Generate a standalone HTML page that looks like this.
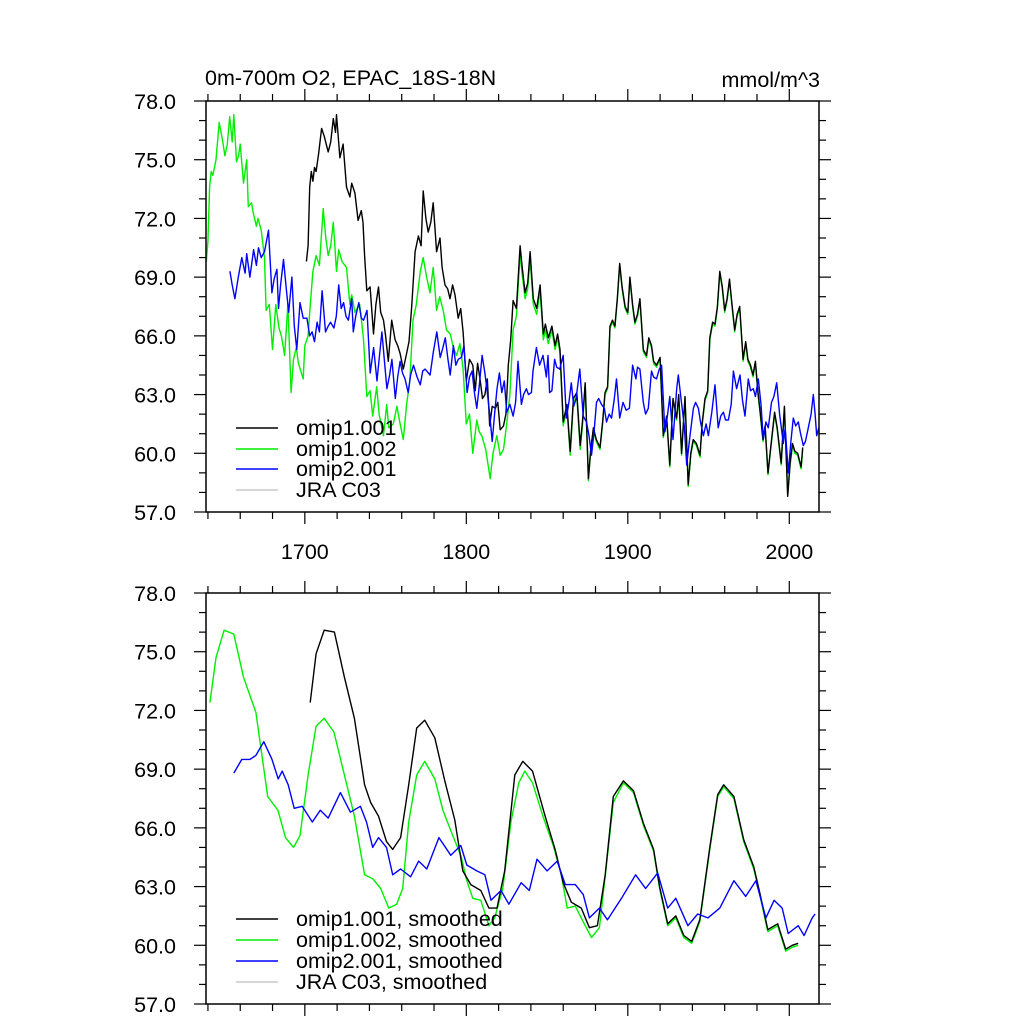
<!DOCTYPE html>
<html><head><meta charset="utf-8"><style>
html,body{margin:0;padding:0;background:#fff;}
svg{display:block;font-family:"Liberation Sans",Arial,sans-serif;}
</style></head><body>
<svg id="chart" width="1024" height="1024" viewBox="0 0 1024 1024">
<text x="205" y="85" font-size="21.5">0m-700m O2, EPAC_18S-18N</text>
<text x="820" y="87" font-size="21.5" text-anchor="end">mmol/m^3</text>
</svg>
<script>
// ---- data (years and values) ----
const topGreenYears=[1639,1640,1641,1642,1643,1645,1647,1649,1650.5,1652,1653.5,1655,1656,1657.7,1659,1660,1662,1664,1665,1667,1668,1670,1671,1673,1675,1676,1678,1680,1682,1684,1685.5,1687.5,1689.5,1691.5,1693,1694.7,1696,1699,1700,1702,1703,1705,1707,1709,1711.4,1713,1714.5,1716,1717.6,1719.6,1721,1723,1725.8,1727.9,1729,1731,1734,1736.3,1738.4,1740.4,1742,1744.5,1746,1748.7,1750.7,1752,1754.8,1757,1759,1761,1763,1765,1767,1769,1771.5,1773.3,1775.4,1777.5,1779.5,1781.6,1783.5,1785.7,1787.7,1790,1792,1794,1796,1798,1800,1802,1804,1806.5,1808,1809.6,1812,1814.8,1816.5,1818.9,1821,1823,1825,1827,1829,1831,1833.3,1834.5,1836.4,1838,1839.5,1841.5,1843.6,1845.7,1847.7,1849,1850.8,1853,1855,1856.5,1858,1860,1862.3,1864.3,1866.3,1868.4,1870.5,1872,1873.6,1875.6,1877,1878.7,1880.5,1882.8,1884.5,1885.9,1887.5,1889,1890.5,1892,1893.5,1895,1896.5,1898.3,1900,1901.3,1903,1904.4,1906,1907.5,1909.6,1911.6,1913,1914.7,1916,1917.8,1920,1922,1924,1926,1928,1930.2,1931.5,1933.3,1935.4,1937.4,1939,1940.5,1942.5,1944.7,1946,1947.8,1949.5,1950.8,1952.5,1954,1955.5,1957,1958.5,1960,1961.5,1963,1964.5,1966.2,1967.7,1969.3,1971.4,1973,1974.4,1976,1977.5,1979,1980.6,1982,1983.7,1985,1986.8,1988.5,1990.9,1992.5,1995,1997,1999,2000.5,2002,2003.5,2005.2,2007.3,2008.3];
const topGreenValues=[69.8,70.8,73.6,74.4,74.2,75.0,76.9,76.0,75.2,75.8,77.2,75.9,77.3,74.9,75.2,75.8,73.8,75.0,72.6,72.8,72.3,71.6,72.0,71.4,70.0,67.3,67.6,65.3,67.6,66.4,66.0,65.0,67.6,63.1,64.8,65.4,64.6,63.8,65.5,66.0,67.2,69.3,70.1,69.6,72.5,71.0,70.1,70.6,71.8,69.3,70.4,69.8,69.5,67.6,68.1,67.2,67.6,65.9,62.9,63.2,61.9,63.4,62.0,60.9,62.5,61.3,61.5,62.4,61.5,60.7,62.5,63.7,66.8,67.6,69.3,70.0,69.0,68.2,69.5,67.3,68.0,67.3,66.3,66.1,65.4,65.0,65.6,64.3,61.5,62.0,60.0,61.7,61.1,60.9,60.2,58.7,60.0,60.9,59.9,60.2,61.5,63.0,66.3,67.0,70.2,69.2,67.9,68.4,69.9,67.6,67.1,68.3,65.8,66.3,65.6,66.3,65.3,65.9,65.1,61.4,62.3,59.9,62.6,62.9,60.2,61.5,63.5,58.6,60.1,61.2,60.6,60.2,61.6,63.0,63.3,66.4,66.7,66.4,67.8,69.6,68.4,67.4,67.1,68.9,67.5,66.6,67.0,67.8,65.2,64.9,65.8,65.4,64.6,64.4,64.8,60.8,61.8,59.3,62.7,61.7,62.9,59.9,62.8,58.3,59.9,60.6,60.4,59.8,61.4,62.7,63.1,65.8,66.6,66.5,67.4,69.2,68.4,67.2,67.8,68.8,67.5,66.2,67.0,67.4,64.7,65.6,64.7,64.4,63.9,64.6,63.0,62.0,60.6,61.3,58.9,60.2,62.0,61.2,59.4,62.3,57.9,59.4,60.4,60.0,59.9,59.2,60.2];
const topBlackYears=[1701,1702,1703,1704,1705,1706,1707,1708.5,1710.4,1712,1714.5,1716,1717.6,1719,1719.6,1721.7,1723.7,1725.8,1727.9,1729,1731,1733,1735,1736,1737,1738.4,1740.4,1742.5,1744,1745.6,1747,1748.7,1750,1751.7,1753.8,1755.9,1757.5,1759,1761,1763,1764.5,1766.2,1768.3,1770.3,1772,1773.3,1775,1776.4,1778,1779.5,1781.6,1783.7,1785,1786.8,1788.5,1789.9,1791.5,1793,1795,1796.5,1798,1800,1802,1804,1805.5,1807,1808.5,1810,1811.5,1813,1814.5,1816,1818,1819.5,1821,1823,1824.5,1826,1827.5,1829,1831,1833.3,1834.5,1836.4,1838,1839.5,1841.5,1843.6,1845.7,1847.7,1849,1850.8,1853,1855,1856.5,1858,1860,1862.3,1864.3,1866.3,1868.4,1870.5,1872,1873.6,1875.6,1877,1878.7,1880.5,1882.8,1884.5,1885.9,1887.5,1889,1890.5,1892,1893.5,1895,1896.5,1898.3,1900,1901.3,1903,1904.4,1906,1907.5,1909.6,1911.6,1913,1914.7,1916,1917.8,1920,1922,1924,1926,1928,1930.2,1931.5,1933.3,1935.4,1937.4,1939,1940.5,1942.5,1944.7,1946,1947.8,1949.5,1950.8,1952.5,1954,1955.5,1957,1958.5,1960,1961.5,1963,1964.5,1966.2,1967.7,1969.3,1971.4,1973,1974.4,1976,1977.5,1979,1980.6,1982,1983.7,1985,1986.8,1988.5,1990.9,1992.5,1995,1997,1999,2000.5,2002,2003.5,2005.2,2007.3,2008.3];
const topBlackValues=[69.8,70.6,73.6,74.4,73.9,74.6,74.4,75.3,76.6,76.2,75.4,75.9,77.1,76.4,77.3,75.1,75.8,73.6,73.1,73.8,73.3,71.9,72.4,71.8,70.1,68.3,68.5,66.1,67.6,68.5,67.2,66.8,66.0,64.7,66.8,65.8,65.5,65.1,64.3,65.1,65.7,67.5,70.3,71.1,70.6,73.4,72.0,71.3,71.8,72.8,70.3,71.0,69.5,68.6,68.4,67.9,68.6,68.1,66.9,67.4,66.2,63.7,64.8,64.5,63.2,64.6,63.8,62.8,63.0,63.8,61.4,62.4,62.3,62.6,61.2,61.4,62.0,64.5,65.8,67.8,67.4,70.6,69.6,68.2,68.7,70.3,67.9,67.4,68.6,66.1,66.6,65.9,66.5,65.5,66.1,65.3,61.6,62.5,60.1,62.8,63.1,60.4,61.7,63.6,58.7,60.2,61.3,60.7,60.3,61.7,63.1,63.4,66.5,66.8,66.5,67.9,69.7,68.5,67.5,67.2,69.0,67.6,66.7,67.1,67.9,65.3,65.0,65.9,65.5,64.7,64.5,64.9,60.9,61.9,59.4,62.8,61.8,63.0,60.0,62.9,58.4,60.0,60.7,60.5,59.9,61.5,62.8,63.2,65.9,66.7,66.6,67.5,69.3,68.5,67.3,67.9,68.9,67.6,66.3,67.1,67.5,64.8,65.7,64.8,64.5,64.0,64.7,63.1,62.1,60.7,61.4,59.0,60.3,62.1,61.3,59.5,62.4,57.8,59.5,60.5,60.1,60.0,59.3,60.3];
const topBlueYears=[1653.6,1655,1656.7,1658.8,1661,1663,1664,1666,1668.3,1670,1671.3,1673,1675,1677.5,1679.6,1681,1682.7,1683.7,1685,1686.8,1688.5,1690,1692,1693.5,1695,1697,1699,1701.3,1703,1704.5,1706,1707.6,1709,1710.7,1712.8,1714.5,1715.9,1718,1719.5,1721,1722.5,1724,1725.5,1727,1729,1730,1731.5,1733.4,1735,1736.4,1738.5,1740.5,1742.6,1744.7,1746,1747.7,1749.5,1750.8,1752.5,1753.9,1756,1757.5,1759,1760.5,1762,1764,1765.5,1767.3,1769.5,1771.5,1773,1774.5,1777.6,1779.6,1781.7,1783.8,1785.5,1787,1788.5,1790,1792,1793.5,1795,1797,1798.5,1800.5,1802,1803.6,1805,1806.5,1808,1809.8,1811.5,1813,1814.5,1816,1817.5,1819,1820.5,1822,1823.5,1825,1827,1829,1830.5,1832,1834.1,1835.5,1837.2,1838.5,1840.3,1841.3,1843.4,1845.4,1847.5,1849.6,1850.6,1851.6,1853,1854.7,1856,1857.8,1860,1862,1863.5,1865,1866.5,1868,1870.3,1872.4,1874.4,1876,1877.5,1879,1880.6,1882,1883.7,1885.5,1886.8,1888.5,1889.9,1891.5,1893,1895,1897,1899,1901,1903,1905,1906,1907.5,1909.6,1911,1912.7,1914.7,1916,1917.8,1919.5,1920.9,1923,1924.5,1926,1928,1930.3,1931.3,1933.4,1935,1936.5,1938.5,1940.6,1942,1943.7,1945,1946.8,1948.5,1949.9,1952,1954,1956,1957.5,1959.2,1960.5,1962.3,1964,1965.4,1967.4,1969.5,1971,1972.6,1974.6,1976,1977.7,1979,1980.8,1982.5,1983.9,1985.5,1987,1989,1990.5,1992.2,1994,1996.3,1997.5,1999.4,2001,2002.5,2004,2005.6,2007,2008.7,2010,2011.8,2013.5,2014.9,2016,2017,2018.3];
const topBlueValues=[69.3,68.6,67.9,69.0,70.0,69.2,70.2,69.0,70.4,69.6,70.5,70.0,70.3,71.4,68.2,68.9,69.4,67.4,68.6,69.9,68.4,67.2,69.0,66.5,65.3,67.7,66.9,66.9,66.0,66.2,65.7,66.7,66.2,68.3,66.2,66.5,66.7,66.4,67.0,68.6,67.4,67.7,67.0,66.8,67.9,66.2,67.0,67.7,66.9,66.8,67.3,64.1,65.4,63.7,64.8,66.2,64.5,63.3,64.0,64.8,62.8,63.9,64.7,64.1,63.8,63.1,64.0,64.5,63.9,63.5,64.2,64.3,64.0,65.2,66.2,64.9,65.4,65.9,64.9,64.0,65.5,64.5,64.8,64.9,65.5,63.1,63.9,64.2,63.1,62.3,63.4,65.0,64.1,63.1,62.0,60.6,62.0,63.3,64.1,63.1,63.7,62.1,62.5,61.9,62.6,64.7,62.5,63.0,63.3,63.0,63.1,64.2,65.4,64.5,65.0,63.9,65.0,63.1,63.2,64.8,64.4,64.3,65.0,61.8,62.6,63.6,62.4,62.8,64.3,61.9,61.6,60.9,59.9,61.0,62.6,62.8,62.5,62.3,61.6,62.0,61.8,62.7,63.8,61.8,62.6,62.2,62.3,64.5,63.8,64.4,64.3,62.6,62.0,62.3,64.2,63.9,63.8,64.3,64.5,61.1,61.9,62.9,60.7,63.3,64.0,62.5,61.4,59.4,60.9,62.3,62.6,62.3,61.6,60.9,61.5,60.9,62.1,63.5,61.3,61.9,62.1,61.7,61.7,62.5,64.2,63.3,64.0,62.7,61.9,63.8,63.2,63.3,62.9,63.8,62.5,60.7,61.6,61.3,62.6,62.9,63.6,62.0,60.5,61.3,59.0,60.6,61.8,61.4,61.6,61.0,60.4,60.6,61.3,62.0,63.0,62.0,60.9,61.3];
const botGreenYears=[1641.2,1645,1650,1656,1662,1669.7,1677,1683.3,1688,1693,1697,1702,1707,1712,1718,1724.5,1730.7,1737,1742,1747,1752,1756.8,1760.6,1764.3,1769.3,1774.2,1780.5,1785.5,1791.6,1796.6,1800.3,1804,1809,1814,1817.6,1822.6,1827.6,1832.5,1836.2,1841,1847.4,1853.8,1858.8,1862.5,1867.5,1872.4,1877.5,1882.4,1886.1,1891,1897.3,1903.5,1909.8,1916,1919.7,1924.7,1929.7,1934.7,1939.6,1944.6,1950.8,1955.7,1959.4,1965.7,1971.8,1978,1981.7,1986.7,1992.8,1997.8,2001.8,2005.5];
const botGreenValues=[72.4,74.7,76.1,75.9,73.7,71.9,67.6,66.9,65.5,65.0,65.6,68.7,71.2,71.6,70.9,68.7,66.6,63.6,63.4,62.9,61.9,62.1,62.9,66.3,68.7,69.4,68.5,66.9,65.6,64.6,63.3,62.4,62.3,61.0,61.4,62.9,66.3,68.3,68.9,68.3,66.6,65.1,63.6,61.9,62.0,61.2,60.4,60.9,63.6,67.3,68.3,67.8,66.1,64.8,62.9,61.0,61.4,60.4,60.1,61.2,64.9,67.6,68.1,67.5,65.3,63.9,62.6,60.7,61.0,59.7,59.9,60.0];
const botBlackYears=[1703.3,1707,1712,1718.3,1724.5,1730.7,1737,1740.7,1745.6,1750.6,1754.4,1759.3,1764.3,1769.3,1774.2,1780.5,1786.7,1792.9,1797.8,1802.8,1809,1814,1819,1823.8,1830,1835,1841,1848.8,1855,1860,1865,1871.2,1876.2,1881.2,1886,1891,1897.3,1903.5,1909.8,1916,1919.7,1924.7,1929.7,1934.7,1939.6,1944.6,1950.8,1955.7,1959.4,1965.7,1971.8,1978,1981.7,1986.7,1992.8,1997.8,2001.8,2005.5];
const botBlackValues=[72.4,74.9,76.1,76.0,73.7,71.6,68.2,67.3,66.6,65.3,64.9,65.5,68.2,71.1,71.5,70.6,68.4,66.4,63.8,63.1,62.8,61.9,61.9,63.8,68.7,69.4,68.9,66.6,64.9,63.2,62.2,61.9,60.9,61.0,63.6,67.6,68.4,67.9,66.2,64.9,63.0,61.1,61.5,60.5,60.2,61.3,65.0,67.7,68.2,67.6,65.4,64.0,62.7,60.8,61.1,59.8,60.0,60.1];
const botBlueYears=[1656,1661,1666,1669.7,1674.6,1679.7,1683.5,1686,1689.7,1693.4,1698.4,1704.6,1709.6,1714.5,1722,1728.2,1734.4,1738.2,1742,1745.6,1750.6,1754.4,1759.3,1765.5,1770.5,1775.5,1783,1790.4,1796.6,1800.3,1806.5,1811.5,1815.3,1821.5,1826.4,1834,1839,1843.8,1850,1856.3,1861.3,1867.5,1872.4,1876.2,1882.4,1887.4,1896.1,1904.8,1911,1918.5,1924.7,1929.7,1937.2,1943.3,1949.6,1957,1965.7,1973,1979.3,1985.5,1990.6,1995.6,1999.3,2005.5,2009.2,2014.2,2016];
const botBlueValues=[68.8,69.5,69.5,69.7,70.4,69.5,68.5,68.9,68.2,67.0,67.1,66.3,66.9,66.5,67.8,66.8,67.1,66.3,65.0,65.5,65.0,63.6,63.9,63.5,64.3,63.9,65.5,64.6,65.1,64.1,63.8,63.6,62.3,62.8,62.1,63.2,62.8,64.4,63.8,64.3,63.1,63.1,62.6,61.4,61.9,61.3,62.4,63.6,62.9,63.7,61.9,62.4,61.0,61.6,61.4,61.9,63.3,62.5,63.3,61.4,62.3,61.9,60.6,61.0,60.5,61.4,61.6];
const xTickLabels=[1700,1800,1900,2000];
const yTickLabels=[57,60,63,66,69,72,75,78];
const topLegendLabels=["omip1.001","omip1.002","omip2.001","JRA C03"];
const botLegendLabels=["omip1.001, smoothed","omip1.002, smoothed","omip2.001, smoothed","JRA C03, smoothed"];

const NS="http://www.w3.org/2000/svg";
const svg=document.getElementById('chart');
const X0=206,X1=819,YR0=1638.8,YR1=2018.4,VMIN=57,VMAX=78;
const FS=21.5;
function xs(yr){return X0+(yr-YR0)/(YR1-YR0)*(X1-X0);}
function mk(tag,attrs,parent){const e=document.createElementNS(NS,tag);for(const k in attrs)e.setAttribute(k,attrs[k]);(parent||svg).appendChild(e);return e;}

function panel(top,bottom,name,showX,series,legendLabels,legendY){
  const ys=v=>bottom-(v-VMIN)/(VMAX-VMIN)*(bottom-top);
  const g=mk('g',{});
  
  
  const colors=['#000000','#00ee00','#0000ff'];
  const snames=['series-omip1-001','series-omip1-002','series-omip2-001'];
  series.forEach((s,i)=>{
    const d=s[0].map((yr,j)=>(j?'L':'M')+xs(yr).toFixed(1)+' '+ys(s[1][j]).toFixed(1)).join(' ');
    const p=mk('path',{d:d,fill:'none',stroke:colors[s[2]],'stroke-width':1.4,'stroke-linejoin':'round'},g);
    
    
  });
  const r=mk('rect',{x:X0,y:top,width:X1-X0,height:bottom-top,fill:'none',stroke:'#000','stroke-width':1.5},g);
  
  
  for(let v=VMIN;v<=VMAX;v++){
    const major=(v-VMIN)%3===0, L=major?12:7, y=ys(v);
    mk('line',{x1:X0-L,x2:X0,y1:y,y2:y,stroke:'#000','stroke-width':1.2},g);
    mk('line',{x1:X1,x2:X1+L,y1:y,y2:y,stroke:'#000','stroke-width':1.2},g);
  }
  yTickLabels.forEach(v=>{
    const t=mk('text',{x:176,y:ys(v)+8,'font-size':FS,'text-anchor':'end'},g);
    t.textContent=v.toFixed(1);
    
    
  });
  for(let yr=1640;yr<=2010;yr+=20){
    const major=yr%100===0,L=major?12:7,x=xs(yr);
    mk('line',{x1:x,x2:x,y1:bottom,y2:bottom+L,stroke:'#000','stroke-width':1.2},g);
    mk('line',{x1:x,x2:x,y1:top-L,y2:top,stroke:'#000','stroke-width':1.2},g);
  }
  if(showX) xTickLabels.forEach(yr=>{
    const t=mk('text',{x:xs(yr),y:bottom+47,'font-size':FS,'text-anchor':'middle'},g);
    t.textContent=yr;
    
    
  });
  const lc=['#000000','#00ee00','#0000ff','#c8c8c8'];
  legendLabels.forEach((lab,i)=>{
    const y=legendY[i];
    const le=mk('g',{},g);
    
    
    mk('line',{x1:236,x2:278,y1:y,y2:y,stroke:lc[i],'stroke-width':1.5},le);
    const t=mk('text',{x:296,y:y+7,'font-size':FS},le);
    t.textContent=lab;
  });
}
panel(101,512,'top-panel',true,
  [[topGreenYears,topGreenValues,1],[topBlackYears,topBlackValues,0],[topBlueYears,topBlueValues,2]],
  topLegendLabels,[428,449,469,490]);
panel(593,1004,'bottom-panel',false,
  [[botGreenYears,botGreenValues,1],[botBlackYears,botBlackValues,0],[botBlueYears,botBlueValues,2]],
  botLegendLabels,[919,940,961,982]);
</script>
</body></html>
